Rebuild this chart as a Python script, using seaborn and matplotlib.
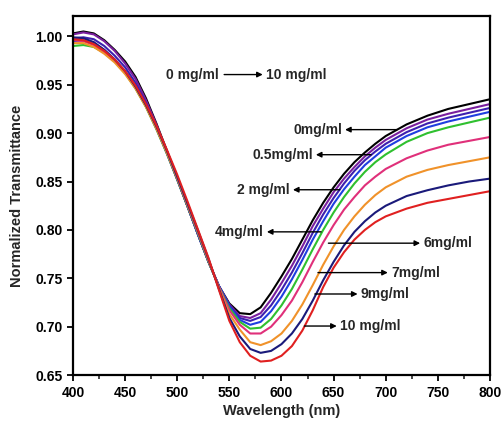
import matplotlib
matplotlib.use("Agg")
import matplotlib.pyplot as plt
import seaborn as sns
import pandas as pd
from matplotlib.ticker import MultipleLocator

wavelength = [400, 410, 420, 430, 440, 450, 460, 470, 480, 490, 500, 510, 520, 530,
              540, 550, 560, 570, 580, 590, 600, 610, 620, 630, 640, 650, 660, 670,
              680, 690, 700, 720, 740, 760, 780, 800]

t_0 = [1.003, 1.005, 1.003, 0.996, 0.986, 0.974, 0.958, 0.936, 0.910, 0.882, 0.853, 0.824, 0.795, 0.767,
       0.742, 0.724, 0.714, 0.713, 0.720, 0.735, 0.752, 0.770, 0.790, 0.810, 0.828, 0.844, 0.858, 0.870,
       0.880, 0.889, 0.897, 0.909, 0.918, 0.925, 0.930, 0.935]
t_05 = [1.002, 1.004, 1.002, 0.995, 0.985, 0.972, 0.956, 0.934, 0.909, 0.881, 0.853, 0.824, 0.795, 0.767,
        0.742, 0.723, 0.711, 0.709, 0.714, 0.728, 0.745, 0.763, 0.783, 0.804, 0.822, 0.839, 0.853, 0.865,
        0.876, 0.885, 0.893, 0.905, 0.914, 0.920, 0.925, 0.930]
t_1 = [0.998, 0.999, 0.997, 0.990, 0.980, 0.968, 0.952, 0.931, 0.907, 0.880, 0.852, 0.824, 0.795, 0.767,
       0.742, 0.722, 0.709, 0.706, 0.710, 0.722, 0.738, 0.756, 0.776, 0.797, 0.816, 0.833, 0.848, 0.861,
       0.872, 0.881, 0.889, 0.901, 0.910, 0.916, 0.921, 0.926]
t_2 = [0.995, 0.996, 0.993, 0.986, 0.976, 0.963, 0.948, 0.928, 0.905, 0.879, 0.852, 0.824, 0.795, 0.767,
       0.742, 0.721, 0.707, 0.702, 0.705, 0.716, 0.731, 0.749, 0.769, 0.790, 0.809, 0.827, 0.842, 0.855,
       0.867, 0.876, 0.885, 0.897, 0.906, 0.912, 0.917, 0.922]
t_4 = [0.990, 0.991, 0.989, 0.983, 0.974, 0.962, 0.946, 0.927, 0.904, 0.879, 0.852, 0.824, 0.796, 0.767,
       0.741, 0.719, 0.705, 0.698, 0.699, 0.708, 0.722, 0.739, 0.759, 0.780, 0.800, 0.818, 0.834, 0.848,
       0.860, 0.870, 0.878, 0.891, 0.900, 0.906, 0.911, 0.916]
t_6 = [0.996, 0.995, 0.991, 0.984, 0.975, 0.963, 0.947, 0.928, 0.905, 0.880, 0.853, 0.825, 0.797, 0.768,
       0.741, 0.717, 0.702, 0.693, 0.693, 0.700, 0.712, 0.727, 0.746, 0.767, 0.787, 0.805, 0.821, 0.834,
       0.846, 0.855, 0.863, 0.874, 0.882, 0.888, 0.892, 0.896]
t_7 = [0.993, 0.993, 0.989, 0.982, 0.973, 0.961, 0.946, 0.927, 0.905, 0.880, 0.854, 0.826, 0.798, 0.769,
       0.740, 0.713, 0.697, 0.684, 0.681, 0.685, 0.693, 0.706, 0.723, 0.743, 0.764, 0.783, 0.800, 0.814,
       0.826, 0.836, 0.844, 0.855, 0.862, 0.867, 0.871, 0.875]
t_9 = [0.999, 0.998, 0.994, 0.986, 0.976, 0.964, 0.948, 0.929, 0.907, 0.882, 0.855, 0.827, 0.799, 0.770,
       0.739, 0.709, 0.690, 0.677, 0.673, 0.675, 0.682, 0.693, 0.708, 0.727, 0.748, 0.767, 0.784, 0.798,
       0.809, 0.818, 0.825, 0.835, 0.841, 0.846, 0.850, 0.853]
t_10 = [0.997, 0.996, 0.992, 0.985, 0.976, 0.964, 0.949, 0.930, 0.908, 0.883, 0.857, 0.829, 0.800, 0.771,
        0.738, 0.706, 0.684, 0.670, 0.664, 0.665, 0.670, 0.680, 0.696, 0.717, 0.741, 0.761, 0.777, 0.790,
        0.800, 0.808, 0.814, 0.822, 0.828, 0.832, 0.836, 0.840]

series_names = ["0", "0.5", "1", "2", "4", "6", "7", "9", "10"]
series_values = [t_0, t_05, t_1, t_2, t_4, t_6, t_7, t_9, t_10]
colors = ["#000000", "#7a1f9e", "#3d20b0", "#1f3fe0", "#2fc02f",
          "#e0307a", "#f0922a", "#1a1a7a", "#e02020"]

labels = ["0mg/ml", "0.5mg/ml", "2 mg/ml", "4mg/ml", "6mg/ml", "7mg/ml", "9mg/ml", "10 mg/ml"]
range_labels = ["0 mg/ml", "10 mg/ml"]

rows = []
for name, vals in zip(series_names, series_values):
    for w, v in zip(wavelength, vals):
        rows.append({"Wavelength": w, "T": v, "conc": name})
df = pd.DataFrame(rows)

sns.set_style("ticks")
plt.rcParams["font.family"] = ["Liberation Sans", "DejaVu Sans"]
plt.rcParams["font.weight"] = "bold"

fig = plt.figure(figsize=(5.01, 4.21), dpi=100)
ax = fig.add_axes([0.1457, 0.109, 0.8323, 0.853])

sns.lineplot(data=df, x="Wavelength", y="T", hue="conc", hue_order=series_names,
             palette=colors, legend=False, linewidth=1.5, ax=ax, sort=True)

ax.set_xlim(400, 800)
ax.set_ylim(0.65, 1.021)
ax.xaxis.set_major_locator(MultipleLocator(50))
ax.xaxis.set_minor_locator(MultipleLocator(25))
ax.set_yticks([0.65, 0.70, 0.75, 0.80, 0.85, 0.90, 0.95, 1.00])
ax.set_yticklabels(["0.65", "0.70", "0.75", "0.80", "0.85", "0.90", "0.95", "1.00"])
ax.tick_params(axis="both", which="major", direction="out", length=4, width=1.3,
               labelsize=10, colors="black")
ax.tick_params(axis="x", which="minor", direction="out", length=3, width=1.2)
for lab in ax.get_xticklabels() + ax.get_yticklabels():
    lab.set_fontweight("bold")
for sp in ax.spines.values():
    sp.set_visible(True)
    sp.set_linewidth(1.6)
    sp.set_color("black")

ax.set_xlabel("Wavelength (nm)", fontsize=10.5, fontweight="bold", labelpad=3)
ax.set_ylabel("Normalized Transmittance", fontsize=10.5, fontweight="bold", labelpad=8)

ap = dict(arrowstyle="-|>", color="black", lw=1.0, mutation_scale=8, shrinkA=0, shrinkB=0)
tk = dict(fontsize=10, fontweight="bold", va="center")

# top range annotation
ax.text(540, 0.9605, range_labels[0], ha="right", **tk)
ax.annotate("", xy=(582, 0.9605), xytext=(545, 0.9605), arrowprops=ap)
ax.text(585, 0.9605, range_labels[1], ha="left", **tk)

left_specs = [
    (labels[0], 711, 661, 0.9036),
    (labels[1], 686, 633, 0.8777),
    (labels[2], 656, 611, 0.8415),
    (labels[3], 638, 586, 0.7980),
]
for lab, x0, x1, y in left_specs:
    ax.annotate("", xy=(x1, y), xytext=(x0, y), arrowprops=ap)
    ax.text(x1 - 3, y, lab, ha="right", **tk)

right_specs = [
    (labels[4], 645, 733, 0.7863),
    (labels[5], 635, 702, 0.7559),
    (labels[6], 632, 673, 0.7338),
    (labels[7], 622, 653, 0.7007),
]
for lab, x0, x1, y in right_specs:
    ax.annotate("", xy=(x1, y), xytext=(x0, y), arrowprops=ap)
    ax.text(x1 + 3, y, lab, ha="left", **tk)

fig.savefig("out.png", dpi=100)
